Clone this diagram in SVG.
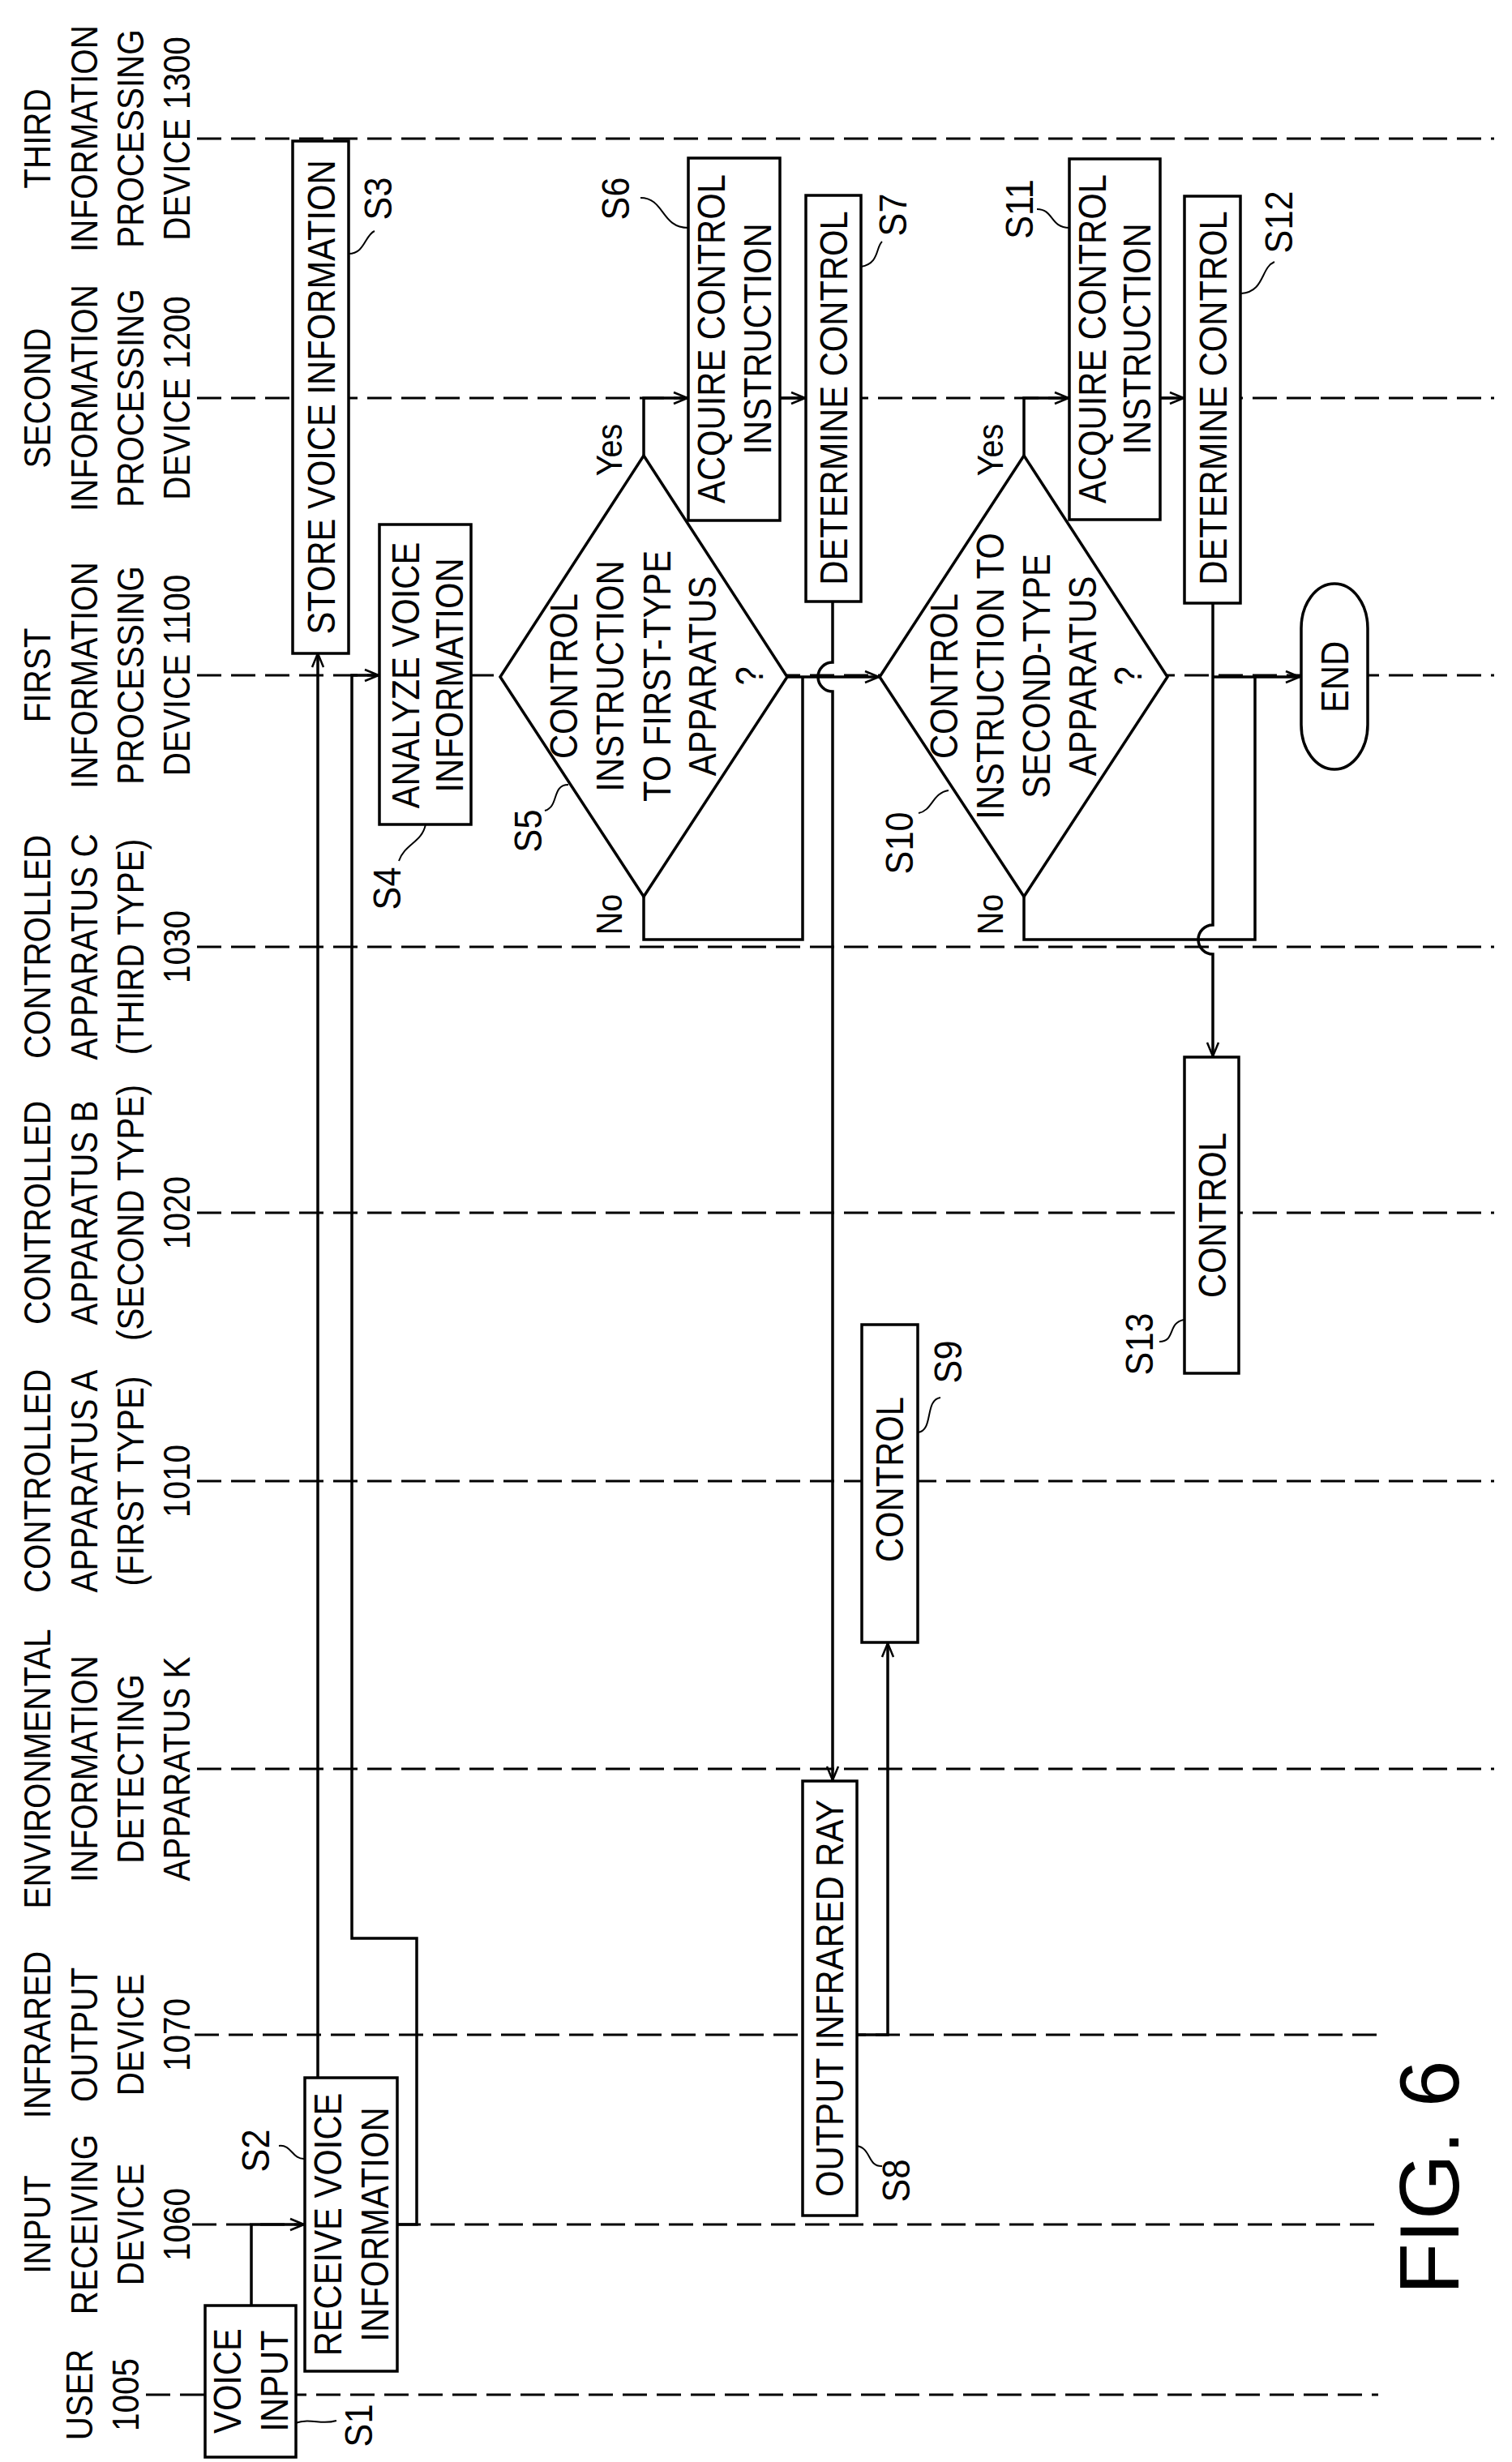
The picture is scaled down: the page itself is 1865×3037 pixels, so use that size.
<svg xmlns="http://www.w3.org/2000/svg" width="1865" height="3037" viewBox="0 0 1865 3037">
<style>
text{font-family:"Liberation Sans",Arial,sans-serif;fill:#000;text-anchor:middle;dominant-baseline:central}
.lb{font-size:47px}
.bx{font-size:48px}
.sl{font-size:48px}
.yn{font-size:44px}
.fig{font-size:104px}
.life{stroke:#000;stroke-width:3;stroke-dasharray:30 12;fill:none}
.box{fill:#fff;stroke:#000;stroke-width:3.5}
.ln{fill:none;stroke:#000;stroke-width:3.5}
.ld{fill:none;stroke:#000;stroke-width:2}
</style>
<defs>
<marker id="ar" viewBox="0 0 20 20" refX="19" refY="10" markerWidth="20" markerHeight="20" markerUnits="userSpaceOnUse" orient="auto">
<path d="M2,3 L19,10 L2,17" fill="none" stroke="#000" stroke-width="2.5"/>
</marker>
</defs>
<rect width="1865" height="3037" fill="#fff"/>
<g id="lifelines">
<line class="life" x1="243" y1="171" x2="1843" y2="171"/>
<line class="life" x1="243" y1="491" x2="1843" y2="491"/>
<line class="life" x1="243" y1="833" x2="1843" y2="833"/>
<line class="life" x1="243" y1="1168" x2="1843" y2="1168"/>
<line class="life" x1="243" y1="1496" x2="1843" y2="1496"/>
<line class="life" x1="243" y1="1827" x2="1843" y2="1827"/>
<line class="life" x1="243" y1="2182" x2="1843" y2="2182"/>
<line class="life" x1="240" y1="2510" x2="1700" y2="2510"/>
<line class="life" x1="237" y1="2744" x2="1700" y2="2744"/>
<line class="life" x1="180" y1="2954" x2="1700" y2="2954"/>
</g>
<g id="headers" class="lb">
<text transform="translate(45,171) rotate(-90) scale(0.86,1)">THIRD</text>
<text transform="translate(103,171) rotate(-90) scale(0.86,1)">INFORMATION</text>
<text transform="translate(160,171) rotate(-90) scale(0.86,1)">PROCESSING</text>
<text transform="translate(217,171) rotate(-90) scale(0.86,1)">DEVICE 1300</text>
<text transform="translate(45,491) rotate(-90) scale(0.86,1)">SECOND</text>
<text transform="translate(103,491) rotate(-90) scale(0.86,1)">INFORMATION</text>
<text transform="translate(160,491) rotate(-90) scale(0.86,1)">PROCESSING</text>
<text transform="translate(217,491) rotate(-90) scale(0.86,1)">DEVICE 1200</text>
<text transform="translate(45,833) rotate(-90) scale(0.86,1)">FIRST</text>
<text transform="translate(103,833) rotate(-90) scale(0.86,1)">INFORMATION</text>
<text transform="translate(160,833) rotate(-90) scale(0.86,1)">PROCESSING</text>
<text transform="translate(217,833) rotate(-90) scale(0.86,1)">DEVICE 1100</text>
<text transform="translate(45,1168) rotate(-90) scale(0.86,1)">CONTROLLED</text>
<text transform="translate(103,1168) rotate(-90) scale(0.86,1)">APPARATUS C</text>
<text transform="translate(160,1168) rotate(-90) scale(0.86,1)">(THIRD TYPE)</text>
<text transform="translate(217,1168) rotate(-90) scale(0.86,1)">1030</text>
<text transform="translate(45,1496) rotate(-90) scale(0.86,1)">CONTROLLED</text>
<text transform="translate(103,1496) rotate(-90) scale(0.86,1)">APPARATUS B</text>
<text transform="translate(160,1496) rotate(-90) scale(0.86,1)">(SECOND TYPE)</text>
<text transform="translate(217,1496) rotate(-90) scale(0.86,1)">1020</text>
<text transform="translate(45,1827) rotate(-90) scale(0.86,1)">CONTROLLED</text>
<text transform="translate(103,1827) rotate(-90) scale(0.86,1)">APPARATUS A</text>
<text transform="translate(160,1827) rotate(-90) scale(0.86,1)">(FIRST TYPE)</text>
<text transform="translate(217,1827) rotate(-90) scale(0.86,1)">1010</text>
<text transform="translate(45,2182) rotate(-90) scale(0.86,1)">ENVIRONMENTAL</text>
<text transform="translate(103,2182) rotate(-90) scale(0.86,1)">INFORMATION</text>
<text transform="translate(160,2182) rotate(-90) scale(0.86,1)">DETECTING</text>
<text transform="translate(217,2182) rotate(-90) scale(0.86,1)">APPARATUS K</text>
<text transform="translate(45,2510) rotate(-90) scale(0.86,1)">INFRARED</text>
<text transform="translate(103,2510) rotate(-90) scale(0.86,1)">OUTPUT</text>
<text transform="translate(160,2510) rotate(-90) scale(0.86,1)">DEVICE</text>
<text transform="translate(217,2510) rotate(-90) scale(0.86,1)">1070</text>
<text transform="translate(45,2744) rotate(-90) scale(0.86,1)">INPUT</text>
<text transform="translate(103,2744) rotate(-90) scale(0.86,1)">RECEIVING</text>
<text transform="translate(160,2744) rotate(-90) scale(0.86,1)">DEVICE</text>
<text transform="translate(217,2744) rotate(-90) scale(0.86,1)">1060</text>
<text transform="translate(97,2954) rotate(-90) scale(0.86,1)">USER</text>
<text transform="translate(154,2954) rotate(-90) scale(0.86,1)">1005</text>
</g>
<g id="connectors">
<path class="ln" d="M310,2844 V2744 H375" marker-end="url(#ar)"/>
<path class="ln" d="M392,2563 V806" marker-end="url(#ar)"/>
<path class="ln" d="M490,2744 H514 V2391 H434 V833 H467" marker-end="url(#ar)"/>
<path class="ln" d="M794,562 V491 H848" marker-end="url(#ar)"/>
<path class="ln" d="M962,491 H993" marker-end="url(#ar)"/>
<path class="ln" d="M794,1106 V1159 H990 V835"/>
<path class="ln" d="M971,835 H1084" marker-end="url(#ar)"/>
<path class="ln" d="M1027,742 V817 A18,18 0 0 0 1027,853 V2196" marker-end="url(#ar)"/>
<path class="ln" d="M1057,2510 H1095 V2027" marker-end="url(#ar)"/>
<path class="ln" d="M1263,562 V491 H1318" marker-end="url(#ar)"/>
<path class="ln" d="M1431,491 H1460" marker-end="url(#ar)"/>
<path class="ln" d="M1263,1106 V1159 H1548 V835"/>
<path class="ln" d="M1496,835 H1603" marker-end="url(#ar)"/>
<path class="ln" d="M1496,744 V1141 A18,18 0 0 0 1496,1177 V1303" marker-end="url(#ar)"/>
<path class="ld" d="M364,2989 C385,2982 395,2992 415,2986"/>
<path class="ld" d="M344,2647 C360,2645 360,2664 376,2663"/>
<path class="ld" d="M430,313 C450,313 450,290 462,285"/>
<path class="ld" d="M525,1017 C520,1040 500,1040 492,1062"/>
<path class="ld" d="M790,244 C820,244 815,281 849,281"/>
<path class="ld" d="M1062,329 C1085,325 1080,305 1088,298"/>
<path class="ld" d="M701,968 C680,968 690,995 672,1000"/>
<path class="ld" d="M1170,975 C1150,978 1150,1000 1133,1003"/>
<path class="ld" d="M1057,2647 C1075,2650 1070,2673 1088,2672"/>
<path class="ld" d="M1132,1767 C1152,1765 1140,1727 1160,1724"/>
<path class="ld" d="M1279,258 C1300,258 1295,281 1319,281"/>
<path class="ld" d="M1531,362 C1560,360 1555,330 1572,323"/>
<path class="ld" d="M1460,1628 C1440,1632 1450,1655 1430,1655"/>
</g>
<g id="S1"><rect class="box" x="253" y="2844" width="112" height="187"/>
<text class="bx" transform="translate(280,2937) rotate(-90) scale(0.87,1)">VOICE</text>
<text class="bx" transform="translate(338,2937) rotate(-90) scale(0.87,1)">INPUT</text>
<text class="sl" transform="translate(443,2992) rotate(-90) scale(0.9,1)">S1</text></g>
<g id="S2"><rect class="box" x="376" y="2563" width="114" height="362"/>
<text class="bx" transform="translate(404,2744) rotate(-90) scale(0.87,1)">RECEIVE VOICE</text>
<text class="bx" transform="translate(462,2744) rotate(-90) scale(0.87,1)">INFORMATION</text>
<text class="sl" transform="translate(316,2653) rotate(-90) scale(0.9,1)">S2</text></g>
<g id="S3"><rect class="box" x="361" y="174" width="69" height="632"/>
<text class="bx" transform="translate(396,490) rotate(-90) scale(0.87,1)">STORE VOICE INFORMATION</text>
<text class="sl" transform="translate(467,245) rotate(-90) scale(0.9,1)">S3</text></g>
<g id="S4"><rect class="box" x="468" y="647" width="113" height="370"/>
<text class="bx" transform="translate(500,833) rotate(-90) scale(0.87,1)">ANALYZE VOICE</text>
<text class="bx" transform="translate(554,833) rotate(-90) scale(0.87,1)">INFORMATION</text>
<text class="sl" transform="translate(478,1096) rotate(-90) scale(0.9,1)">S4</text></g>
<g id="S5"><path class="box" d="M794,562 L971,835 L794,1106 L617,835 Z"/>
<text class="bx" transform="translate(695,834) rotate(-90) scale(0.87,1)">CONTROL</text>
<text class="bx" transform="translate(752,834) rotate(-90) scale(0.87,1)">INSTRUCTION</text>
<text class="bx" transform="translate(810,834) rotate(-90) scale(0.87,1)">TO FIRST-TYPE</text>
<text class="bx" transform="translate(866,834) rotate(-90) scale(0.87,1)">APPARATUS</text>
<text class="bx" transform="translate(924,834) rotate(-90) scale(0.87,1)">?</text>
<text class="sl" transform="translate(652,1025) rotate(-90) scale(0.9,1)">S5</text>
<text class="yn" transform="translate(752,555) rotate(-90) scale(0.9,1)">Yes</text>
<text class="yn" transform="translate(752,1128) rotate(-90) scale(0.9,1)">No</text></g>
<g id="S6"><rect class="box" x="849" y="195" width="113" height="447"/>
<text class="bx" transform="translate(877,418) rotate(-90) scale(0.87,1)">ACQUIRE CONTROL</text>
<text class="bx" transform="translate(934,418) rotate(-90) scale(0.87,1)">INSTRUCTION</text>
<text class="sl" transform="translate(760,245) rotate(-90) scale(0.9,1)">S6</text></g>
<g id="S7"><rect class="box" x="994" y="241" width="68" height="501"/>
<text class="bx" transform="translate(1028,491) rotate(-90) scale(0.87,1)">DETERMINE CONTROL</text>
<text class="sl" transform="translate(1102,265) rotate(-90) scale(0.9,1)">S7</text></g>
<g id="S8"><rect class="box" x="990" y="2197" width="67" height="536"/>
<text class="bx" transform="translate(1023,2465) rotate(-90) scale(0.87,1)">OUTPUT INFRARED RAY</text>
<text class="sl" transform="translate(1106,2690) rotate(-90) scale(0.9,1)">S8</text></g>
<g id="S9"><rect class="box" x="1063" y="1634" width="69" height="392"/>
<text class="bx" transform="translate(1097,1825) rotate(-90) scale(0.87,1)">CONTROL</text>
<text class="sl" transform="translate(1170,1680) rotate(-90) scale(0.9,1)">S9</text></g>
<g id="S10"><path class="box" d="M1263,562 L1440,835 L1263,1106 L1085,835 Z"/>
<text class="bx" transform="translate(1164,834) rotate(-90) scale(0.87,1)">CONTROL</text>
<text class="bx" transform="translate(1221,834) rotate(-90) scale(0.87,1)">INSTRUCTION TO</text>
<text class="bx" transform="translate(1278,834) rotate(-90) scale(0.87,1)">SECOND-TYPE</text>
<text class="bx" transform="translate(1335,834) rotate(-90) scale(0.87,1)">APPARATUS</text>
<text class="bx" transform="translate(1391,834) rotate(-90) scale(0.87,1)">?</text>
<text class="sl" transform="translate(1110,1040) rotate(-90) scale(0.9,1)">S10</text>
<text class="yn" transform="translate(1222,555) rotate(-90) scale(0.9,1)">Yes</text>
<text class="yn" transform="translate(1222,1128) rotate(-90) scale(0.9,1)">No</text></g>
<g id="S11"><rect class="box" x="1319" y="196" width="112" height="445"/>
<text class="bx" transform="translate(1347,418) rotate(-90) scale(0.87,1)">ACQUIRE CONTROL</text>
<text class="bx" transform="translate(1402,418) rotate(-90) scale(0.87,1)">INSTRUCTION</text>
<text class="sl" transform="translate(1258,258) rotate(-90) scale(0.9,1)">S11</text></g>
<g id="S12"><rect class="box" x="1461" y="242" width="69" height="502"/>
<text class="bx" transform="translate(1496,491) rotate(-90) scale(0.87,1)">DETERMINE CONTROL</text>
<text class="sl" transform="translate(1578,274) rotate(-90) scale(0.9,1)">S12</text></g>
<g id="S13"><rect class="box" x="1461" y="1304" width="67" height="390"/>
<text class="bx" transform="translate(1495,1499) rotate(-90) scale(0.87,1)">CONTROL</text>
<text class="sl" transform="translate(1406,1658) rotate(-90) scale(0.9,1)">S13</text></g>
<g id="END"><rect class="box" x="1605" y="720" width="82" height="229" rx="41" ry="55"/>
<text class="bx" transform="translate(1646,835) rotate(-90) scale(0.87,1)">END</text></g>
<text class="fig" transform="translate(1763,2686) rotate(-90)">FIG. 6</text>
</svg>
